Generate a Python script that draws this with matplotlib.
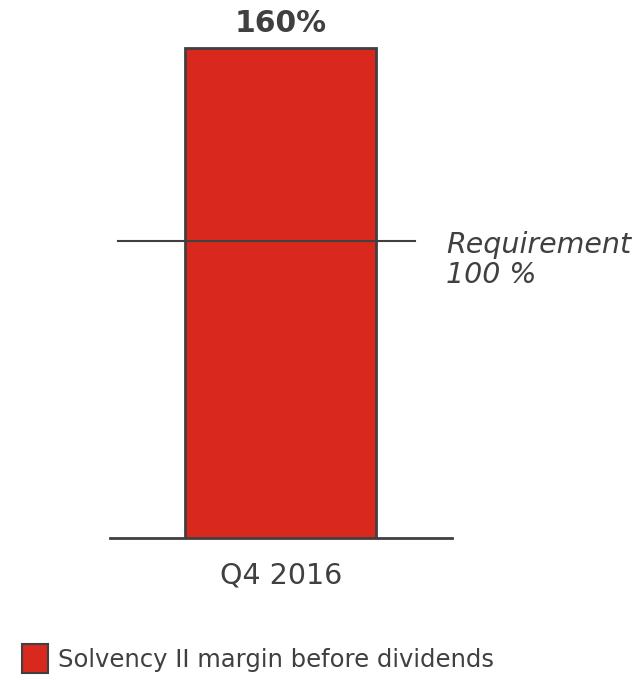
import matplotlib.pyplot as plt
from matplotlib.patches import Patch

plt.rcParams['font.family'] = 'DejaVu Sans'

categories = ['Q4 2016']
margin = [160]
requirement = 100
series_label = 'Solvency II margin before dividends'

bar_color = '#D9291E'
edge_color = '#404040'
text_color = '#404040'

fig = plt.figure(figsize=(6.4, 6.77), dpi=100)
ax = fig.add_axes([0.1719, 0.2053, 0.534, 0.7652])

bars = ax.bar(range(len(categories)), margin, width=1.117, bottom=0,
              color=bar_color, edgecolor=edge_color, linewidth=2, zorder=2)

ax.set_xlim(-1, 1)
ax.set_ylim(7.7, 168.7)

# requirement line over the bar
ax.axhline(requirement, xmin=0.023, xmax=0.892, color=edge_color, linewidth=1.5, zorder=3)
ax.annotate('Requirement\n100 %', xy=(1, requirement), xycoords=('axes fraction', 'data'),
            xytext=(-6, -19), textcoords='offset pixels', ha='left', va='center',
            fontsize=20.5, style='italic', color=text_color, linespacing=1.1,
            annotation_clip=False)

# value label on top
for rect, val in zip(bars, margin):
    ax.annotate(f'{val}%', xy=(rect.get_x() + rect.get_width() / 2, val),
                xytext=(0, 10), textcoords='offset pixels', ha='center', va='bottom',
                fontsize=21.5, fontweight='bold', color=text_color, annotation_clip=False)

for side in ['top', 'right', 'left']:
    ax.spines[side].set_visible(False)
ax.spines['bottom'].set_color(edge_color)
ax.spines['bottom'].set_linewidth(2)
ax.set_yticks([])
ax.set_xticks(range(len(categories)))
ax.set_xticklabels(categories, fontsize=20.5, color=text_color)
ax.tick_params(axis='x', length=0, pad=17)

handles = [Patch(facecolor=bar_color, edgecolor=edge_color, linewidth=1.5, label=series_label)]
fig.legend(handles=handles, loc='lower left', bbox_to_anchor=(0.0, -0.027), frameon=False,
           fontsize=17.5, handlelength=1.07, handleheight=1.5, handletextpad=0.4,
           labelcolor=text_color)

fig.savefig('out.png', dpi=100)
